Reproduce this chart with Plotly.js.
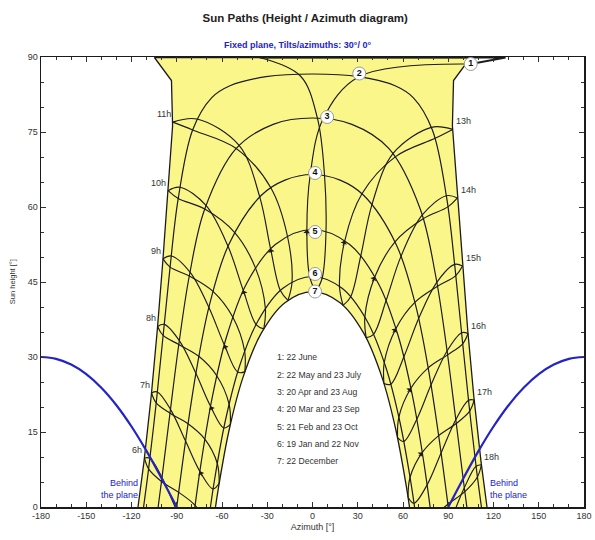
<!DOCTYPE html>
<html><head><meta charset="utf-8">
<script src="https://cdn.plot.ly/plotly-3.0.1.min.js"></script>
<style>html,body{margin:0;padding:0;background:#fff}#chart{width:595px;height:540px}</style>
</head><body><div id="chart"></div>
<script>
// ---- Date curves (azimuth [deg], sun height [deg]) ----
const c1Az = [-115.7,-111.7,-106.95,-102.9,-99.3,-96.0,-92.75,-93.5,-104.8,104.8,93.5,92.75,96.0,99.3,102.9,106.95,111.7,115.7];
const c1H  = [0,9.13,22.11,35.4,48.9,62.54,76.24,85.3,89.9,89.9,85.3,76.24,62.54,48.9,35.4,22.11,9.13,0];
const c2Az = [-112.0,-108.66,-103.62,-99.03,-94.43,-89.01,-79.48,-66.93,-54.74,-30.83,0,30.83,54.74,66.93,79.48,89.01,94.43,99.03,103.62,108.66,112.0];
const c2H  = [0,7.62,20.83,34.31,47.97,61.71,75.41,81.83,84.24,86.06,86.6,86.06,84.24,81.83,75.41,61.71,47.97,34.31,20.83,7.62,0];
const c3Az = [-102.34,-100.11,-94.48,-88.64,-81.68,-71.43,-50.56,-26.1,0,26.1,50.56,71.43,81.68,88.64,94.48,100.11,102.34];
const c3H  = [0,5.11,18.75,32.5,46.2,59.59,71.71,76.53,77.8,76.53,71.71,59.59,46.2,32.5,18.75,5.11,0];
const c4Az = [-90,-83.9,-77.0,-68.3,-55.4,-33.9,-18.27,0,18.27,33.9,55.4,68.3,77.0,83.9,90];
const c4H  = [0,13.73,27.29,40.43,52.57,62.35,65.38,66.5,65.38,62.35,52.57,40.43,27.29,13.73,0];
const c5Az = [-77.99,-73.75,-66.44,-56.94,-43.68,-24.67,0,24.67,43.68,56.94,66.44,73.75,77.99];
const c5H  = [0,9.03,21.96,34.09,44.71,52.51,55.5,52.51,44.71,34.09,21.96,9.03,0];
const c6Az = [-67.66,-65.3,-58.04,-48.62,-36.07,-19.61,0,19.61,36.07,48.62,58.04,65.3,67.66];
const c6H  = [0,4.79,16.9,27.96,37.26,43.73,46.1,43.73,37.26,27.96,16.9,4.79,0];
const c7Az = [-64.3,-62.6,-55.42,-46.14,-33.94,-18.3,0,18.3,33.94,46.14,55.42,62.6,64.3];
const c7H  = [0,3.39,15.2,25.87,34.76,40.85,43.06,40.85,34.76,25.87,15.2,3.39,0];

// ---- Sun position at each legal hour 6h..18h, per date ----
const hourNames = ["6h","7h","8h","9h","10h","11h","12h","13h","14h","15h","16h","17h","18h"];
const decAz = [-67.70,-61.84,-54.46,-44.88,-32.29,-16.26,2.20,20.29,35.54,47.36,56.36,63.33,68.91];
const decH  = [-7.64,4.81,16.51,27.02,35.63,41.33,43.03,40.32,33.84,24.70,13.87,1.96,-10.62];
const janAz = [-71.66,-65.90,-58.79,-49.62,-37.40,-21.31,-1.89,17.89,34.71,47.59,57.26,64.69,70.66];
const janH  = [-9.21,3.62,15.81,26.99,36.49,43.28,46.08,44.14,38.00,28.91,17.99,5.95,-6.78];
const febAz = [-80.72,-74.69,-67.59,-58.48,-45.89,-27.80,-3.72,21.42,41.35,55.33,65.24,72.80,79.06];
const febH  = [-6.31,7.13,20.15,32.43,43.32,51.64,55.43,53.28,46.04,35.72,23.76,10.92,-2.42];
const marAz = [-90.24,-84.15,-77.34,-68.67,-56.00,-35.00,-1.50,32.78,54.71,67.84,76.73,83.65,89.76];
const marH  = [-0.55,13.18,26.75,39.92,52.13,62.04,66.50,62.64,53.03,40.94,27.83,14.28,0.55];
const aprAz = [-99.79,-94.16,-88.29,-81.22,-70.64,-48.67,7.16,55.07,73.34,82.86,89.56,95.32,100.98];
const aprH  = [5.88,19.53,33.28,46.97,60.32,72.31,77.71,70.08,57.63,44.15,30.43,16.70,3.08];
const mayAz = [-107.79,-102.85,-98.29,-93.64,-87.92,-76.56,30.83,81.24,89.78,95.02,99.59,104.21,109.33];
const mayH  = [9.75,23.01,36.53,50.20,63.96,77.60,86.06,73.74,60.03,46.29,32.64,19.18,6.01];
const junAz = [-111.41,-106.72,-102.69,-99.10,-95.79,-92.57,104.9,92.93,96.14,99.47,103.10,107.18,111.96];
const junH  = [9.81,22.81,36.12,49.63,63.27,76.97,88.6,75.52,61.81,48.18,34.69,21.41,8.45];
const julAz = [-108.66,-103.62,-99.03,-94.43,-89.01,-79.48,-8.0,78.83,88.75,94.24,98.85,103.43,108.44];
const julH  = [7.62,20.83,34.31,47.97,61.71,75.41,86.2,75.93,62.26,48.52,34.86,21.36,8.14];
const augAz = [-100.11,-94.48,-88.64,-81.68,-71.43,-50.56,3.25,53.45,72.64,82.42,89.22,95.00,100.65];
const augH  = [5.11,18.75,32.50,46.20,59.59,71.71,77.78,70.72,58.36,44.93,31.21,17.47,3.85];
const sepAz = [-88.72,-82.53,-75.38,-65.96,-51.71,-27.65,7.98,39.51,58.64,70.38,78.61,85.24,91.28];
const sepH  = [2.93,16.64,30.14,43.13,54.94,63.85,66.29,60.59,50.12,37.68,24.43,10.81,-2.93];
const octAz = [-77.85,-71.39,-63.48,-52.87,-37.83,-16.60,8.95,32.01,48.80,60.56,69.16,75.97,81.88];
const octH  = [0.32,13.58,26.26,37.99,47.82,54.15,55.13,50.25,41.29,30.01,17.55,4.42,-9.07];
const novAz = [-69.41,-63.16,-55.30,-44.99,-31.24,-13.57,6.47,25.31,40.47,51.93,60.55,67.30,72.84];
const novH  = [-3.85,8.75,20.57,31.17,39.70,44.99,45.85,42.05,34.54,24.57,13.12,0.76,-12.18];
// 12h line passing over the zenith region
const noonTopAz = [128,40,-35];
const noonTopH  = [89.9,89.9,89.9];

// ---- "Behind the plane" limit (plane tilt 30 deg, azimuth 0 deg) ----
const behindLeftAz  = [-180,-170,-160,-150,-140,-130,-120,-110,-100,-90];
const behindLeftH   = [30.0,29.62,28.48,26.57,23.86,20.36,16.10,11.17,5.72,0];
const behindRightAz = [90,100,110,120,130,140,150,160,170,180];
const behindRightH  = [0,5.72,11.17,16.10,20.36,23.86,26.57,28.48,29.62,30.0];

// ---- Axes ticks ----
const azTickVals = [-180,-150,-120,-90,-60,-30,0,30,60,90,120,150,180];
const azTickText = ["-180","-150","-120","-90","-60","-30","0","30","60","90","120","150","180"];
const hTickVals = [0,15,30,45,60,75,90];

// ---- Labels ----
const numLabels = ["1","2","3","4","5","6","7"];
const numAz = [104.9,31,9.7,1.7,1.7,1.7,1.7];
const numH  = [88.6,86.7,78,66.8,55,46.6,43.1];
const dateLegend = ["1: 22 June","2: 22 May and 23 July","3: 20 Apr and 23 Aug","4: 20 Mar and 23 Sep","5: 21 Feb and 23 Oct","6: 19 Jan and 22 Nov","7: 22 December"];
const legendAz = -24.8;
const legendH = [30.1,26.5,23.1,19.6,16.1,12.6,9.3];

const FONT = "'Liberation Sans Narrow','Arial Narrow','Liberation Sans',Arial,sans-serif";
const INK = '#1b1b1b';
const BLUE = '#2323c8';
const traces = [];

traces.push({x:c1Az, y:c1H, mode:'lines', fill:'toself', fillcolor:'#fbf68a', line:{color:INK,width:1.3}, hoverinfo:'skip'});
traces.push({x:c7Az, y:c7H, mode:'lines', fill:'toself', fillcolor:'#ffffff', line:{color:INK,width:1.3,shape:'spline'}, hoverinfo:'skip'});
[[c2Az,c2H],[c3Az,c3H],[c4Az,c4H],[c5Az,c5H],[c6Az,c6H]].forEach(([a,h])=>{
  traces.push({x:a, y:h, mode:'lines', line:{color:INK,width:1.2,shape:'spline'}, hoverinfo:'skip'});
});

// first half of the year (Dec -> Jun) and second half (Jun -> Dec)
const firstHalfAz = [decAz,janAz,febAz,marAz,aprAz,mayAz,junAz];
const firstHalfH  = [decH,janH,febH,marH,aprH,mayH,junH];
const secondHalfAz = [junAz,julAz,augAz,sepAz,octAz,novAz,decAz];
const secondHalfH  = [junH,julH,augH,sepH,octH,novH,decH];

const hourLine = {color:INK,width:1.15,shape:'spline',smoothing:1};
hourNames.forEach((name,i)=>{
  traces.push({x:firstHalfAz.map(a=>a[i]), y:firstHalfH.map(a=>a[i]), mode:'lines', line:hourLine, hoverinfo:'skip'});
  if (name === "12h") {
    traces.push({x:[junAz[i]].concat(noonTopAz), y:[junH[i]].concat(noonTopH), mode:'lines', line:{color:INK,width:1.8}, hoverinfo:'skip'});
    const bx = [noonTopAz[noonTopAz.length-1]].concat(secondHalfAz.slice(1).map(a=>a[i]));
    const by = [noonTopH[noonTopH.length-1]].concat(secondHalfH.slice(1).map(a=>a[i]));
    traces.push({x:bx, y:by, mode:'lines', line:hourLine, hoverinfo:'skip'});
  } else {
    traces.push({x:secondHalfAz.map(a=>a[i]), y:secondHalfH.map(a=>a[i]), mode:'lines', line:hourLine, hoverinfo:'skip'});
  }
});

traces.push({x:behindLeftAz, y:behindLeftH, mode:'lines', line:{color:BLUE,width:2.2,shape:'spline'}, hoverinfo:'skip'});
traces.push({x:behindRightAz, y:behindRightH, mode:'lines', line:{color:BLUE,width:2.2,shape:'spline'}, hoverinfo:'skip'});

traces.push({x:numAz, y:numH, mode:'markers+text', text:numLabels, textposition:'middle center',
  textfont:{family:FONT,size:9,color:'#111',weight:'bold'},
  marker:{size:13,color:'#ffffff',line:{color:'#9a9a9a',width:1}}, cliponaxis:false, hoverinfo:'skip'});

const annotations = [];
// direction arrows on the hour lines (at the February position, heading towards March)
const PXX = 543/360, PXY = 450/90;
hourNames.forEach((name,i)=>{
  if (febH[i] < 1) return;
  const dx = (marAz[i]-febAz[i])*PXX, dy = -(marH[i]-febH[i])*PXY;
  const n = Math.hypot(dx,dy) || 1;
  annotations.push({x:febAz[i], y:febH[i], text:'', showarrow:true, arrowhead:1, arrowsize:1.1, arrowwidth:1,
    arrowcolor:INK, ax:-dx/n*7, ay:-dy/n*7});
});
hourNames.forEach((name,i)=>{
  if (name === "12h") {
    annotations.push({x:129, y:91.8, text:name, showarrow:false, font:{family:FONT,size:9,color:'#333'}});
  } else if (i < 6) {
    annotations.push({x:junAz[i], y:junH[i], text:name, showarrow:false, xanchor:'right', yanchor:'bottom', xshift:0, yshift:1, font:{family:FONT,size:9,color:'#333'}});
  } else {
    annotations.push({x:junAz[i], y:junH[i], text:name, showarrow:false, xanchor:'left', yanchor:'bottom', xshift:1, yshift:1, font:{family:FONT,size:9,color:'#333'}});
  }
});
dateLegend.forEach((t,i)=>{
  annotations.push({x:legendAz, y:legendH[i], text:t, showarrow:false, xanchor:'left', yanchor:'middle', font:{family:FONT,size:8.6,color:'#333'}});
});
annotations.push({x:-114.4, y:3.6, text:'Behind<br>the plane', showarrow:false, xanchor:'right', yanchor:'middle', align:'right', font:{family:FONT,size:9,color:BLUE}});
annotations.push({x:116.4, y:3.6, text:'Behind<br>the plane', showarrow:false, xanchor:'left', yanchor:'middle', align:'left', font:{family:FONT,size:9,color:BLUE}});
annotations.push({xref:'paper', yref:'paper', x:0.4715, y:1.027, text:'Fixed plane, Tilts/azimuths: 30°/ 0°', showarrow:false, xanchor:'center', yanchor:'middle', font:{family:FONT,size:9,color:BLUE,weight:'bold'}});
annotations.push({xref:'paper', yref:'paper', x:-0.053, y:0.5, text:'Sun height [°]', textangle:-90, showarrow:false, xanchor:'center', yanchor:'middle', font:{family:FONT,size:7.5,color:'#333'}});

const axisCommon = {
  showgrid:false, zeroline:false, showline:true, linecolor:INK, linewidth:1.5, mirror:'allticks',
  ticks:'inside', ticklen:5, tickwidth:1, tickcolor:'#333',
  tickfont:{family:FONT,size:9,color:'#333'}, fixedrange:true
};
const layout = {
  width:595, height:540, margin:{l:41,r:11,t:57,b:33},
  paper_bgcolor:'#ffffff', plot_bgcolor:'#ffffff', showlegend:false,
  title:{text:'Sun Paths (Height / Azimuth diagram)', x:0.513, xanchor:'center', y:0.966, yanchor:'middle', font:{family:FONT,size:11.5,color:'#222',weight:'bold'}},
  xaxis:Object.assign({}, axisCommon, {range:[-180,180], tickmode:'array', tickvals:azTickVals, ticktext:azTickText,
    minor:{dtick:10, tick0:-180, ticks:'inside', ticklen:3, tickcolor:'#333'},
    title:{text:'Azimuth [°]', standoff:3, font:{family:FONT,size:9,color:'#333'}}}),
  yaxis:Object.assign({}, axisCommon, {range:[0,90], tickmode:'array', tickvals:hTickVals,
    minor:{dtick:5, tick0:0, ticks:'inside', ticklen:3, tickcolor:'#333'}}),
  annotations:annotations
};
Plotly.newPlot('chart', traces, layout, {staticPlot:true, displayModeBar:false});
</script>
</body></html>
